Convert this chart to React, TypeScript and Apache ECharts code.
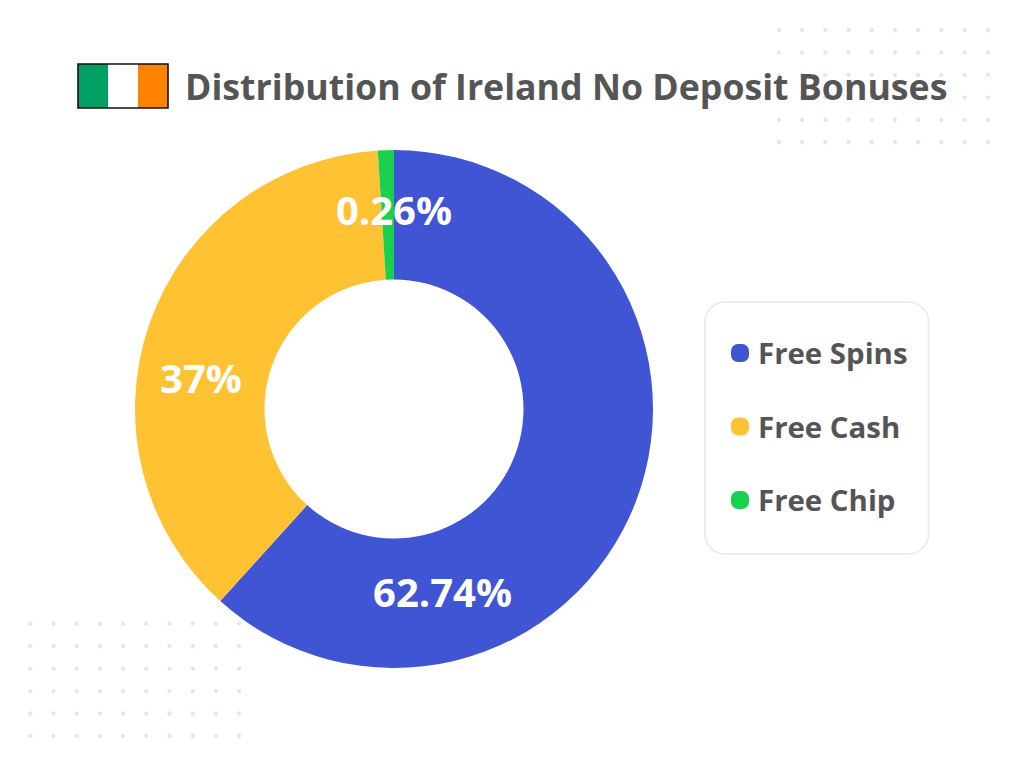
import { useEffect, useRef } from "react";
import * as echarts from "echarts";

const categories = ["Free Spins", "Free Cash", "Free Chip"];
// slice sizes measured from the drawn ring, the printed labels do not match them exactly
const sliceShares = [61.7, 37.3, 1.0];
const sliceLabels = ["62.74%", "37%", "0.26%"];
const colors = ["#3f55d3", "#ffc233", "#1ad14f"];
const labelSpots = [
  [442.5, 591],
  [201, 377],
  [394, 209],
];

const FONT = "'Open Sans', 'Noto Sans', sans-serif";
const LEGEND_ICON = "path://M7 0H11A7 7 0 0 1 18 7V11A7 7 0 0 1 11 18H7A7 7 0 0 1 0 11V7A7 7 0 0 1 7 0Z";

function dotGrid(x0: number, y0: number, cols: number, rows: number) {
  const dots: any[] = [];
  for (let r = 0; r < rows; r++) {
    for (let c = 0; c < cols; c++) {
      dots.push({
        type: "circle",
        silent: true,
        z: -1,
        shape: { cx: x0 + c * 23.2, cy: y0 + r * 22.45, r: 2.2 },
        style: { fill: "#e6e6e6" },
      });
    }
  }
  return dots;
}

export default function App() {
  const chartRef = useRef<HTMLDivElement>(null);

  useEffect(() => {
    if (!chartRef.current) return;
    const chart = echarts.init(chartRef.current, undefined, { renderer: "svg" });

    chart.setOption({
      animation: false,
      backgroundColor: "#ffffff",
      color: colors,
      title: {
        text: "Distribution of Ireland No Deposit Bonuses",
        left: 185,
        top: 62,
        padding: 0,
        textStyle: {
          fontFamily: FONT,
          fontSize: 35.7,
          fontWeight: 700,
          color: "#555555",
          lineHeight: 48,
        },
      },
      legend: {
        orient: "vertical",
        left: 705,
        top: 302,
        padding: [31, 21, 34, 26],
        backgroundColor: "#ffffff",
        borderColor: "#ececec",
        borderWidth: 2,
        borderRadius: 20,
        itemWidth: 18,
        itemHeight: 18,
        itemGap: 33.5,
        icon: LEGEND_ICON,
        selectedMode: false,
        data: categories,
        textStyle: {
          fontFamily: FONT,
          fontSize: 29.4,
          fontWeight: 700,
          color: "#555555",
          lineHeight: 40,
          padding: [0, 0, 0, 4],
        },
      },
      graphic: [
        ...dotGrid(779, 30, 10, 6),
        ...dotGrid(30.3, 623.7, 10, 6),
        { type: "rect", shape: { x: 78, y: 64, width: 30, height: 44 }, style: { fill: "#009f62" } },
        { type: "rect", shape: { x: 108, y: 64, width: 30, height: 44 }, style: { fill: "#ffffff" } },
        { type: "rect", shape: { x: 138, y: 64, width: 30, height: 44 }, style: { fill: "#ff8200" } },
        {
          type: "rect",
          shape: { x: 78, y: 64, width: 90, height: 44 },
          style: { fill: "none", stroke: "#111111", lineWidth: 1.6 },
        },
      ],
      series: [
        {
          type: "pie",
          center: [394, 409],
          radius: [129.5, 259],
          startAngle: 90,
          clockwise: true,
          silent: true,
          avoidLabelOverlap: false,
          data: categories.map((name, i) => ({
            name,
            value: sliceShares[i],
            label: { formatter: sliceLabels[i] },
          })),
          label: {
            show: true,
            position: "inside",
            fontFamily: FONT,
            fontSize: 40,
            fontWeight: 700,
            color: "#ffffff",
            textBorderWidth: 0,
          },
          labelLine: { show: false },
          labelLayout: (params: any) => ({
            x: labelSpots[params.dataIndex][0],
            y: labelSpots[params.dataIndex][1],
            align: "center",
            verticalAlign: "middle",
          }),
        },
      ],
    });

    return () => chart.dispose();
  }, []);

  return (
    <div
      ref={chartRef}
      style={{ position: "absolute", left: 0, top: 0, width: 1024, height: 768 }}
    />
  );
}
